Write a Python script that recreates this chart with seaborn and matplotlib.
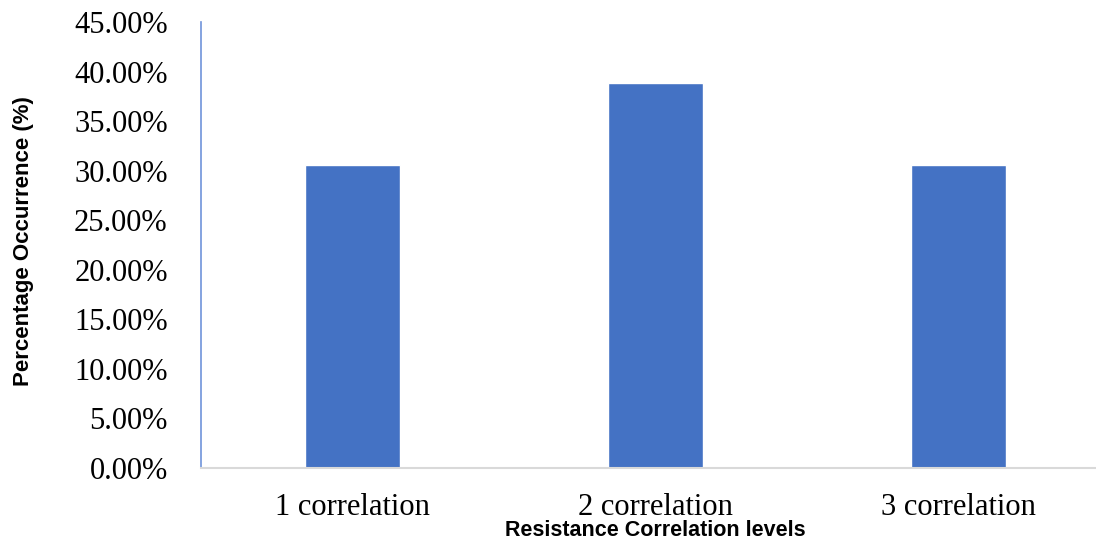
import matplotlib
matplotlib.use("Agg")
import matplotlib.pyplot as plt
import matplotlib.ticker as mticker
import seaborn as sns
import pandas as pd

# Share of occurrences per resistance correlation level (fractions)
categories = ["1 correlation", "2 correlation", "3 correlation"]
occurrence = [0.3056, 0.3889, 0.3056]
y_ticks = [0.0, 0.05, 0.10, 0.15, 0.20, 0.25, 0.30, 0.35, 0.40, 0.45]

df = pd.DataFrame({"level": categories, "share": occurrence})

sns.set_theme(style="white")
plt.rcParams["font.family"] = ["Liberation Serif", "DejaVu Serif"]

fig = plt.figure(figsize=(10.96, 5.40), dpi=100)
ax = fig.add_axes([201 / 1096, 1 - 468 / 540, (1096 - 201) / 1096, (468 - 22) / 540])

sns.barplot(data=df, x="level", y="share", color="#4472C4", saturation=1,
            width=0.314, ax=ax)

ax.set_ylim(0, 0.45)
ax.set_xlim(-0.5, 2.454)
ax.set_yticks(y_ticks)
ax.yaxis.set_major_formatter(mticker.FuncFormatter(lambda v, _: f"{v * 100:.2f}%"))

ax.tick_params(axis="both", length=0, labelsize=22, colors="black")
ax.tick_params(axis="y", pad=24)
ax.tick_params(axis="x", pad=18)

for side in ("top", "right"):
    ax.spines[side].set_visible(False)
ax.spines["left"].set_color("#6F93DA")
ax.spines["left"].set_linewidth(1.2)
ax.spines["bottom"].set_color("#D9D9D9")
ax.spines["bottom"].set_linewidth(1.5)

ax.set_xlabel("")
ax.set_ylabel("")
fig.text(655 / 1096, 1 - 530 / 540, "Resistance Correlation levels",
         ha="center", va="center", fontsize=15.5, fontweight="bold", color="black",
         family=["Liberation Sans", "DejaVu Sans"])
fig.text(24 / 1096, 1 - 241 / 540, "Percentage Occurrence (%)",
         ha="center", va="center", rotation=90, fontsize=16, fontweight="bold",
         color="black", family=["Liberation Sans", "DejaVu Sans"])

fig.savefig("out.png", dpi=100, facecolor="white")
